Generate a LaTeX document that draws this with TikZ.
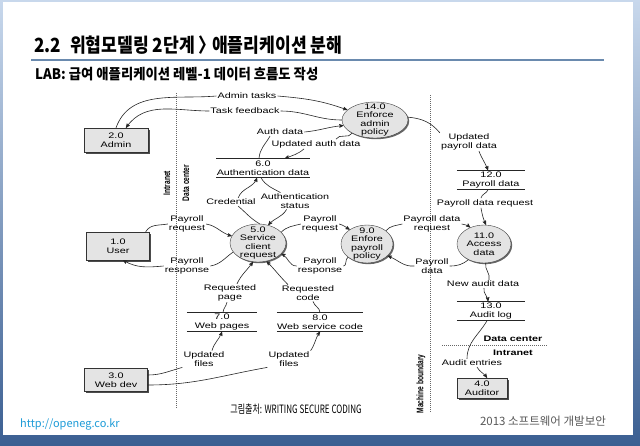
\documentclass[tikz,border=0pt]{standalone}
\usepackage{fontspec}
\usepackage{tikz}
\usetikzlibrary{arrows,shapes.geometric,shadows}
\newfontfamily\dfdfont[FakeStretch=1.35]{Liberation Sans}
\newfontfamily\dfdnarrow[FakeStretch=0.7]{Liberation Sans}
\newfontfamily\krtitle[FakeStretch=0.88]{Noto Sans CJK KR}
\newfontfamily\krsub[FakeStretch=0.92]{Noto Sans CJK KR}
\newfontfamily\krsmall[FakeStretch=0.7]{Noto Sans CJK KR}
\newfontfamily\krplain{Noto Sans CJK KR}
\definecolor{slidetop}{HTML}{C8D8EC}
\definecolor{slidebottom}{HTML}{3B5F92}
\definecolor{rulegray}{HTML}{6A8AAE}
\definecolor{urlblue}{HTML}{1E9CD8}
\definecolor{boxgray}{HTML}{E4E4E4}
\tikzset{>=stealth'}
\def\dfdsize{\fontsize{8}{8.5}\selectfont}

\begin{document}
\begin{tikzpicture}[x=1pt,y=-1pt]
  \tikzstyle{entity_box}=[rectangle, draw=black!80, fill=boxgray, inner sep=0pt, align=center, font=\dfdfont\dfdsize, drop shadow={shadow xshift=1.5pt, shadow yshift=-1.5pt, fill=black!70, opacity=1}]
  \tikzstyle{process_node}=[ellipse, draw=black!75, fill=boxgray, inner sep=0pt, drop shadow={shadow xshift=1.2pt, shadow yshift=-1.2pt, fill=black!60, opacity=1}]
  \tikzstyle{process_text}=[align=center, inner sep=0pt, font=\dfdfont\dfdsize]
  \tikzstyle{store_node}=[rectangle, minimum height=19pt, inner sep=0pt, align=center, font=\dfdfont\dfdsize]
  \tikzstyle{store_line}=[black!85, line width=0.8pt]
  \tikzstyle{flow_label}=[align=center, inner sep=1pt, font=\dfdfont\dfdsize]
  \tikzstyle{data_flow}=[black!85, line width=0.6pt]
  \tikzstyle{boundary_line}=[black!60, line width=0.6pt, dash pattern=on 1pt off 1pt]
  \tikzstyle{boundary_label}=[inner sep=0pt, font=\dfdnarrow\bfseries\fontsize{9.5}{10}\selectfont]
  \tikzstyle{zone_label}=[inner sep=0pt, font=\dfdfont\bfseries\dfdsize]

  \fill[top color=slidetop, bottom color=slidebottom] (0,0) rectangle (640,445);
  \fill[white] (3,2) rectangle (633,435);
  \draw[rulegray, line width=1.6pt] (31,60) -- (604,60);
  \node[anchor=west, inner sep=0pt] (title) at (34,45) {\krtitle\bfseries\fontsize{19.5}{22}\selectfont 2.2\hspace{9pt}위협모델링 2단계 〉\hspace{-4pt}애플리케이션 분해};
  \node[anchor=west, inner sep=0pt] (subtitle) at (35,74) {\krsub\bfseries\fontsize{14.5}{16}\selectfont LAB: 급여 애플리케이션 레벨-1 데이터 흐름도 작성};
  \node[inner sep=0pt] (source) at (296,409) {\krsmall\fontsize{11.5}{12}\selectfont 그림출처: WRITING SECURE CODING};
  \node[anchor=west, inner sep=0pt, text=urlblue] (url) at (20,424) {\krplain\fontsize{11}{12}\selectfont http://openeg.co.kr};
  \node[inner sep=0pt, text=black!65] (footer) at (543,421) {\krplain\fontsize{11.5}{12}\selectfont 2013 소프트웨어 개발보안};

  \draw[boundary_line] (176,93) -- (176,408);
  \draw[boundary_line] (430,95) -- (430,412);
  \draw[boundary_line] (442,345) -- (548,345);
  \node[boundary_label, rotate=90] (intranet) at (167,183) {Intranet};
  \node[boundary_label, rotate=90] (datacenter) at (186,183) {Data center};
  \node[boundary_label, rotate=90] (machine) at (421,384) {Machine boundary};
  \node[zone_label] (zone1) at (513,339) {Data center};
  \node[zone_label] (zone2) at (513,353) {Intranet};

  \node[entity_box, minimum width=64pt, minimum height=24pt] (E2) at (116,140) {2.0\\Admin};
  \node[entity_box, minimum width=63pt, minimum height=28pt] (E1) at (118,246) {1.0\\User};
  \node[entity_box, minimum width=63pt, minimum height=23pt] (E3) at (116,380) {3.0\\Web dev};
  \node[entity_box, minimum width=50pt, minimum height=20pt] (E4) at (482,388) {4.0\\Auditor};

  \node[process_node, minimum width=66pt, minimum height=36pt] (P14) at (375,120) {};
  \node[process_text] (T14) at (P14) {14.0\\Enforce\\admin\\policy};
  \node[process_node, minimum width=56pt, minimum height=38pt] (P5) at (258,243) {};
  \node[process_text] (T5) at (P5) {5.0\\Service\\client\\request};
  \node[process_node, minimum width=52pt, minimum height=38pt] (P9) at (367,244) {};
  \node[process_text] (T9) at (P9) {9.0\\Enfore\\payroll\\policy};
  \node[process_node, minimum width=54pt, minimum height=38pt] (P11) at (484,244) {};
  \node[process_text] (T11) at (P11) {11.0\\Access\\data};

  \node[store_node, minimum width=93pt] (S6) at (263,168) {6.0\\Authentication data};
  \node[store_node, minimum width=68pt] (S12) at (491,180) {12.0\\Payroll data};
  \node[store_node, minimum width=70pt] (S7) at (222,322) {7.0\\Web pages};
  \node[store_node, minimum width=85pt] (S8) at (320,322) {8.0\\Web service code};
  \node[store_node, minimum width=68pt] (S13) at (491,311) {13.0\\Audit log};
  \foreach \s in {S6,S12,S7,S8,S13}
  {
    \draw[store_line] (\s.north west) -- (\s.north east) (\s.south west) -- (\s.south east);
  }

  \node[flow_label] (LA1) at (247,96) {Admin tasks};
  \node[flow_label] (LA2) at (245,111) {Task feedback};
  \node[flow_label] (LA3) at (280,132) {Auth data};
  \node[flow_label] (LA4) at (316,144) {Updated auth data};
  \node[flow_label] (LC) at (231,202) {Credential};
  \node[flow_label] (LS) at (295,201) {Authentication\\status};
  \node[flow_label] (LU1) at (187,224) {Payroll\\request};
  \node[flow_label] (LU2) at (187,266) {Payroll\\response};
  \node[flow_label] (LP1) at (320,224) {Payroll\\request};
  \node[flow_label] (LP2) at (320,266) {Payroll\\response};
  \node[flow_label] (LD1) at (432,224) {Payroll data\\request};
  \node[flow_label] (LD2) at (432,266) {Payroll\\data};
  \node[flow_label] (LD3) at (469,142) {Updated\\payroll data};
  \node[flow_label] (LD4) at (485,203) {Payroll data request};
  \node[flow_label] (LD5) at (483,284) {New audit data};
  \node[flow_label] (LD6) at (472,363) {Audit entries};
  \node[flow_label] (LW1) at (230,293) {Requested\\page};
  \node[flow_label] (LW2) at (308,293) {Requested\\code};
  \node[flow_label] (LW3) at (204,359) {Updated\\files};
  \node[flow_label] (LW4) at (289,359) {Updated\\files};

  \draw[data_flow] (E2.north) to[out=70,in=185] (LA1.west);
  \draw[data_flow,->] (LA1.east) to[out=-5,in=160] (P14.160);
  \draw[data_flow] (P14.180) to[out=180,in=0] (LA2.east);
  \draw[data_flow,->] (LA2.west) to[out=180,in=55] ([xshift=10pt]E2.north);
  \draw[data_flow] ([xshift=-4pt]S6.north) to[out=85,in=-120] ([xshift=-10pt]LA3.south);
  \draw[data_flow,->] (LA3.east) to[out=5,in=185] (P14.190);
  \draw[data_flow] (P14.210) to[out=240,in=60] ([xshift=20pt]LA4.north);
  \draw[data_flow,->] ([xshift=-12pt]LA4.south) to[out=220,in=20] ([xshift=22pt]S6.north);
  \draw[data_flow] (P5.85) to[out=150,in=-40] (LC.-30);
  \draw[data_flow,->] (LC.30) to[out=70,in=-110] ([xshift=-6pt]S6.south);
  \draw[data_flow] ([xshift=-2pt]S6.south) to[out=-60,in=150] (LS.150);
  \draw[data_flow,->] (LS.-135) to[out=-120,in=50] (P5.60);
  \draw[data_flow] ([xshift=-4pt]E1.north east) to[out=60,in=190] (LU1.west);
  \draw[data_flow,->] (LU1.east) to[out=-10,in=165] (P5.165);
  \draw[data_flow] (P5.200) to[out=215,in=10] (LU2.east);
  \draw[data_flow,->] (LU2.west) to[out=185,in=-30] ([xshift=5pt]E1.south);
  \draw[data_flow] (P5.25) to[out=45,in=195] (LP1.west);
  \draw[data_flow,->] (LP1.east) to[out=-15,in=150] (P9.140);
  \draw[data_flow] (P9.215) to[out=205,in=0] (LP2.east);
  \draw[data_flow,->] (LP2.west) to[out=180,in=-25] (P5.-25);
  \draw[data_flow] (P9.35) to[out=50,in=195] (LD1.west);
  \draw[data_flow,->] (LD1.east) to[out=-10,in=140] (P11.130);
  \draw[data_flow] (P11.225) to[out=220,in=0] (LD2.east);
  \draw[data_flow,->] (LD2.west) to[out=185,in=-20] (P9.-30);
  \draw[data_flow] (P14.5) to[out=-5,in=130] (LD3.north west);
  \draw[data_flow,->] ([xshift=10pt]LD3.south) to[out=-70,in=110] ([xshift=-3pt]S12.north);
  \draw[data_flow] ([xshift=-3pt]S12.south) to[out=-110,in=80] ([xshift=-4pt]LD4.north);
  \draw[data_flow,->] ([xshift=-4pt]LD4.south) to[out=-80,in=115] ([xshift=2pt]P11.north);
  \draw[data_flow] (P11.-85) to[out=-100,in=75] ([xshift=6pt]LD5.north);
  \draw[data_flow,->] ([xshift=1pt]LD5.south) to[out=-100,in=95] ([xshift=-3pt]S13.north);
  \draw[data_flow] ([xshift=-4pt]S13.south) to[out=-120,in=90] ([xshift=-5pt]LD6.north);
  \draw[data_flow,->] ([xshift=5pt]LD6.south) to[out=-60,in=125] ([xshift=5pt]E4.north);
  \draw[data_flow] ([xshift=1pt]S7.north) to[out=85,in=-100] ([xshift=-3pt]LW1.south);
  \draw[data_flow,->] ([xshift=7pt]LW1.north) to[out=65,in=-125] (P5.-105);
  \draw[data_flow] (S8.north) to[out=95,in=-75] ([xshift=5pt]LW2.south);
  \draw[data_flow,->] ([xshift=-20pt]LW2.north) to[out=135,in=-45] (P5.-65);
  \draw[data_flow] ([yshift=5pt]E3.east) to[out=0,in=195] (LW3.south west);
  \draw[data_flow,->] ([xshift=8pt]LW3.north) to[out=75,in=-110] (S7.south);
  \draw[data_flow] ([yshift=-5pt]E3.east) to[out=0,in=190] (LW4.south west);
  \draw[data_flow,->] (LW4.north east) to[out=55,in=-125] (S8.south);
\end{tikzpicture}
\end{document}
